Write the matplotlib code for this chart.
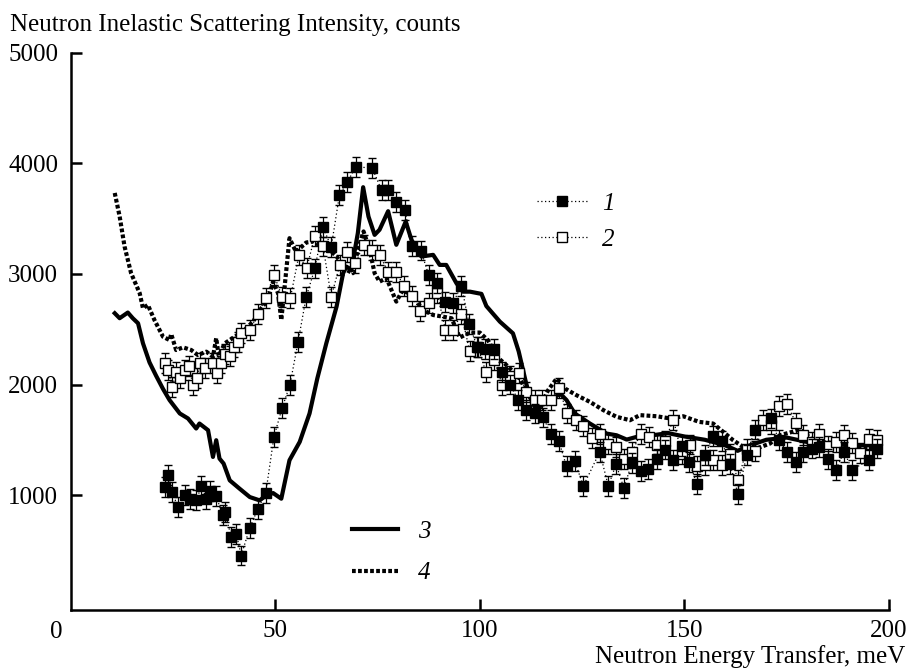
import matplotlib
matplotlib.use("Agg")
import matplotlib.pyplot as plt
from matplotlib.lines import Line2D
import numpy as np

plt.rcParams['font.family'] = ['Liberation Serif', 'DejaVu Serif']

# ---------------- data ----------------
s1_x = [23.0, 23.8, 24.9, 26.2, 27.9, 29.1, 30.7, 32.0, 33.2, 34.0, 35.6, 37.2, 37.7, 39.3, 40.5,
        41.7, 43.8, 45.8, 47.7, 49.7, 51.7, 53.6, 55.6, 57.6, 59.7, 61.7, 63.7, 65.7, 67.6, 69.7,
        73.7, 76.0, 77.6, 79.6, 81.7, 83.5, 85.6, 87.5, 89.6, 91.6, 93.5, 95.5, 97.4, 99.4, 101.3,
        103.4, 105.4, 107.3, 109.4, 111.4, 113.4, 115.5, 117.3, 119.3, 121.2, 123.2, 125.3, 129.3,
        131.4, 133.3, 135.2, 137.2, 139.3, 141.2, 143.2, 145.2, 147.3, 149.3, 151.2, 153.0, 155.0,
        157.0, 159.1, 161.1, 163.1, 165.2, 167.2, 171.1, 173.1, 175.1, 177.2, 179.0, 181.1, 183.0,
        185.0, 187.0, 189.0, 191.0, 195.0, 197.0]
s1_y = [1073, 1178, 1027, 891, 997, 967, 952, 1079, 967, 1036, 988, 816, 846, 619, 650,
        453, 704, 877, 1018, 1526, 1789, 1995, 2387, 2795, 3050, 3424, 3245, 3712, 3830, 3968,
        3960, 3757, 3757, 3648, 3575, 3255, 3212, 2992, 2916, 2750, 2741, 2894, 2548, 2336, 2321,
        2321, 2115, 2000, 1864, 1768, 1738, 1702, 1556, 1487, 1260, 1306, 1082, 1390,
        1082, 1278, 1064, 1294, 1218, 1233, 1330, 1412, 1315, 1444, 1300, 1103, 1360,
        1532, 1487, 1285, 1006, 1360, 1593, 1693, 1496, 1390, 1300, 1390, 1421, 1435,
        1324, 1230, 1390, 1230, 1315, 1421]

s2_x = [23.0, 23.8, 24.9, 25.8, 26.8, 27.9, 28.9, 29.9, 30.9, 31.7, 32.8, 34.8, 35.8, 36.8, 37.8,
        38.9, 39.9, 40.8, 41.7, 43.8, 45.8, 47.7, 49.7, 51.7, 53.7, 55.8, 57.7, 59.7, 61.7, 63.7,
        65.8, 67.6, 69.6, 71.6, 73.7, 75.5, 77.6, 79.6, 81.4, 83.4, 85.5, 87.5, 89.6, 91.6, 93.5,
        95.5, 97.5, 99.5, 101.5, 103.5, 105.5, 107.5, 109.5, 111.4, 113.4, 115.3, 117.3, 119.4,
        121.3, 123.4, 125.3, 127.3, 129.3, 131.4, 133.3, 135.2, 137.2, 139.3, 141.3, 143.2, 145.2,
        147.3, 149.3, 151.3, 153.0, 155.0, 157.0, 159.1, 161.1, 163.1, 165.2, 167.2, 169.1, 171.1,
        173.1, 175.1, 177.2, 179.0, 181.1, 183.0, 185.0, 187.0, 189.0, 191.0, 193.0, 195.0, 197.0]
s2_y = [2191, 2130, 1979, 2115, 2055, 2130, 2167, 1994, 2055, 2191, 2146, 2191, 2100, 2191, 2275,
        2257, 2336, 2387, 2469, 2493, 2640, 2780, 2992, 2795, 2780, 3168, 3052, 3345, 3249, 2795,
        3082, 3197, 3097, 3264, 3218, 3170, 3022, 3014, 2895, 2802, 2668, 2741, 2826, 2493, 2496,
        2638, 2306, 2340, 2112, 2224, 1994, 2076, 2106, 1934, 1862, 1860, 1856, 1970,
        1738, 1683, 1623, 1517, 1556, 1460, 1435, 1330, 1390, 1556, 1526, 1457, 1487,
        1683, 1375, 1457, 1260, 1269, 1315, 1269, 1369, 1133, 1414, 1399, 1677, 1638,
        1807, 1822, 1654, 1541, 1481, 1550, 1444, 1481, 1541, 1472, 1381, 1505, 1496]

s3_x = [10.8, 12.0, 14.0, 15.2, 16.5, 17.7, 19.3, 20.9, 22.6, 24.2, 26.7, 28.7, 30.7, 31.5, 33.6,
        34.8, 35.6, 36.4, 37.4, 38.9, 41.3, 43.8, 46.2, 47.8, 49.5, 51.5, 53.5, 56.0, 58.4, 60.3,
        62.5, 65.0, 66.6, 67.4, 68.6, 70.2, 71.5, 72.8, 74.3, 75.5, 77.6, 79.6, 81.9, 83.3, 85.7,
        88.6, 90.2, 91.8, 94.3, 95.9, 97.6, 100.4, 101.6, 104.9, 108.1, 109.5, 111.2, 112.2, 113.4,
        116.3, 119.6, 121.2, 123.2, 126.9, 131.0, 133.4, 135.9, 138.3, 142.0, 146.0, 150.0, 155.0,
        160.0, 163.0, 166.0, 170.0, 175.0, 180.0, 185.0, 190.0, 197.0]
s3_y = [2645, 2600, 2651, 2600, 2554, 2373, 2200, 2080, 1960, 1859, 1738, 1693, 1602, 1647, 1587,
        1345, 1496, 1330, 1285, 1133, 1058, 982, 952, 997, 1018, 967, 1315, 1481, 1738, 2055,
        2373, 2705, 3007, 3067, 3037, 3370, 3785, 3520, 3354, 3400, 3568, 3264, 3475, 3309, 3158,
        3173, 3082, 3082, 2916, 2840, 2840, 2820, 2710, 2569, 2463, 2300, 2030, 1889, 1798,
        1828, 1919, 1859, 1738, 1647, 1556, 1541, 1502, 1526, 1540, 1560, 1530, 1500,
        1450, 1400, 1450, 1500, 1520, 1480, 1470, 1450, 1450]

s4_x = [10.8, 12.0, 13.2, 14.8, 16.9, 17.7, 18.9, 20.5, 22.6, 24.2, 24.6, 25.8, 27.5, 29.5, 31.1,
        33.2, 34.8, 35.6, 36.2, 37.7, 40.1, 42.1, 44.6, 46.6, 48.2, 49.5, 50.7, 51.5, 53.5, 55.1,
        57.6, 59.3, 61.0, 63.3, 65.0, 67.4, 69.0, 70.2, 71.6, 73.1, 74.3, 75.5, 77.2, 79.6, 81.2,
        83.7, 86.1, 88.6, 91.0, 93.1, 95.1, 97.6, 100.0, 102.0, 104.5, 107.0, 109.8, 112.2, 114.7,
        116.7, 118.8, 120.8, 123.6, 126.9, 130.2, 133.4, 136.7, 139.1, 143.2, 146.5, 149.7, 153.6,
        157.0, 159.5, 161.9, 164.4, 167.6, 170.9, 173.3, 175.8, 178.2, 181.5, 183.9, 187.2, 190.5,
        193.7, 196.2]
s4_y = [3733, 3521, 3249, 3007, 2826, 2690, 2720, 2584, 2432, 2402, 2457, 2312, 2336, 2312, 2267,
        2297, 2250, 2420, 2260, 2373, 2432, 2478, 2569, 2690, 2765, 2930, 2826, 2584, 3324, 3200,
        3285, 3294, 3255, 3218, 3158, 3037, 3007, 3218, 3385, 3218, 3007, 2931, 2962, 2750, 2856,
        2795, 2675, 2629, 2614, 2599, 2425, 2470, 2470, 2400, 2240, 2160, 2050, 1889, 1798,
        1949, 2055, 1964, 1904, 1843, 1768, 1708, 1677, 1723, 1713, 1693, 1713, 1662,
        1647, 1571, 1496, 1435, 1421, 1466, 1541, 1566, 1593, 1496, 1481, 1466, 1451,
        1435, 1435]

err = 90
x_ticks = [50, 100, 150, 200]
y_ticks = [1000, 2000, 3000, 4000, 5000]
labels = ["1", "2", "3", "4"]

# ---------------- figure ----------------
fig = plt.figure(figsize=(9.10, 6.68), dpi=100)
ax = fig.add_axes([0.0775, 0.0868, 0.8995, 0.834])
ax.set_xlim(0, 200)
ax.set_ylim(-40, 5000)

for sp in ['top', 'right']:
    ax.spines[sp].set_visible(False)
for sp in ['left', 'bottom']:
    ax.spines[sp].set_linewidth(1.8)

FS = 18
ax.set_xticks(x_ticks)
ax.set_yticks(y_ticks)
ax.tick_params(direction='in', length=8, width=1.8, labelsize=FS, pad=7)
ax.tick_params(axis='y', pad=9)
ax.text(-3.4, -0.02, "0", transform=ax.get_xaxis_transform(), ha='center', va='top', fontsize=FS)

DOT4 = (0, (0.9, 0.55))
# series 4 (dotted thick) and 3 (solid thick)
ax.plot(s4_x, s4_y, color='black', lw=3.0, linestyle=DOT4, zorder=3)
ax.plot(s3_x, s3_y, color='black', lw=3.0, linestyle='-', zorder=3, solid_joinstyle='round')

# series 2 open squares
ax.plot(s2_x, s2_y, color='black', lw=0.9, linestyle=(0, (1, 2)), zorder=2)
ax.errorbar(s2_x, s2_y, yerr=err, fmt='s', ms=7, mfc='white', mec='black', mew=1.0,
            ecolor='black', elinewidth=0.9, capsize=3.2, capthick=0.9, zorder=4)
# series 1 filled squares
ax.plot(s1_x, s1_y, color='black', lw=0.9, linestyle=(0, (1, 2)), zorder=2)
ax.errorbar(s1_x, s1_y, yerr=err, fmt='s', ms=7, mfc='black', mec='black', mew=1.0,
            ecolor='black', elinewidth=0.9, capsize=3.2, capthick=0.9, zorder=5)

# legends
h1 = Line2D([], [], color='black', lw=0.9, linestyle=(0, (1, 2)), marker='s', ms=7,
            mfc='black', mec='black')
h2 = Line2D([], [], color='black', lw=0.9, linestyle=(0, (1, 2)), marker='s', ms=7,
            mfc='white', mec='black')
h3 = Line2D([], [], color='black', lw=3.0, linestyle='-')
h4 = Line2D([], [], color='black', lw=3.0, linestyle=DOT4)

leg1 = ax.legend([h1, h2], labels[:2], loc='center left',
                 bbox_to_anchor=(0.590, 0.668), bbox_transform=fig.transFigure,
                 frameon=False, handlelength=2.0, handletextpad=0.6,
                 labelspacing=0.55, borderpad=0, borderaxespad=0,
                 prop={'style': 'italic', 'size': FS})
ax.add_artist(leg1)
ax.legend([h3, h4], labels[2:], loc='center left',
          bbox_to_anchor=(0.387, 0.173), bbox_transform=fig.transFigure,
          frameon=False, handlelength=1.85, handletextpad=0.8,
          labelspacing=0.75, borderpad=0, borderaxespad=0,
          prop={'style': 'italic', 'size': FS})

fig.text(10 / 910, 1 - 31.5 / 668, "Neutron Inelastic Scattering Intensity, counts",
         ha='left', va='baseline', fontsize=FS)
fig.text(905 / 910, 1 - 663 / 668, "Neutron Energy Transfer, meV",
         ha='right', va='baseline', fontsize=FS)

fig.savefig("out.png", dpi=100)
